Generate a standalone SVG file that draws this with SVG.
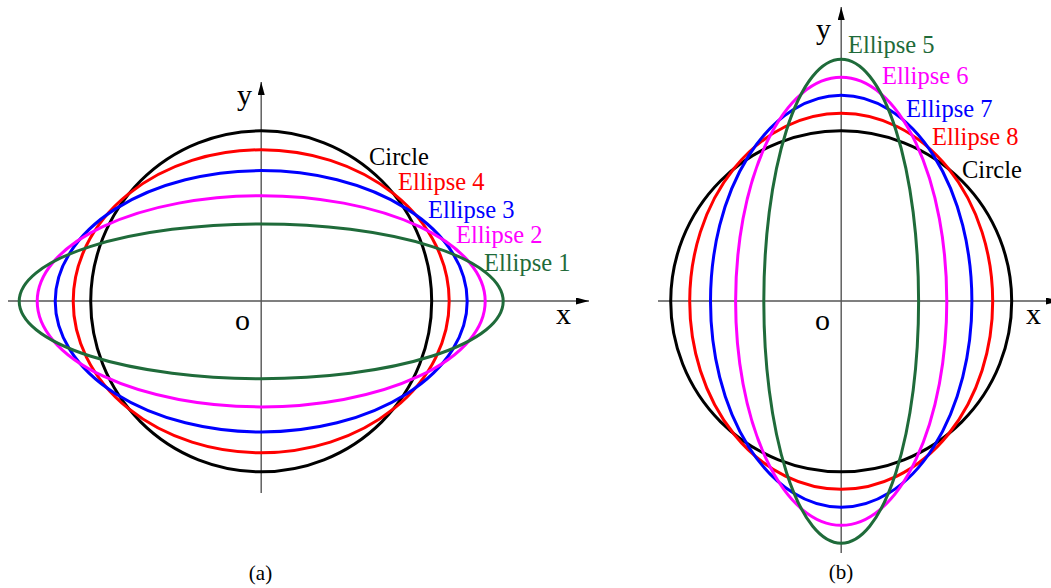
<svg xmlns="http://www.w3.org/2000/svg" width="1051" height="588" viewBox="0 0 1051 588">
<style>
.ax{stroke:#555;stroke-width:1.4;fill:none}
.c{fill:none;stroke-width:3}
.k{stroke:#000}.r{stroke:#ff0000}.b{stroke:#0000ff}.m{stroke:#ff00ff}.g{stroke:#1f6b3a}
.lab{font-family:"Liberation Serif","Times New Roman",serif;font-size:24.5px}
.axl{font-family:"Liberation Serif","Times New Roman",serif;font-size:30px;fill:#000}
.cap{font-family:"Liberation Serif","Times New Roman",serif;font-size:21px;fill:#000;text-anchor:middle}
.tk{fill:#000}.tr{fill:#ff0000}.tb{fill:#0000ff}.tm{fill:#ff00ff}.tg{fill:#1f6b3a}
</style>
<defs>
<marker id="arr" markerWidth="13" markerHeight="7" refX="13" refY="3.5" orient="auto" markerUnits="userSpaceOnUse">
<path d="M0,0 L13,3.5 L0,7 Z" fill="#000"/>
</marker>
</defs>
<rect width="1051" height="588" fill="#fff"/>
<g id="connectors">
<line class="ax" x1="8" y1="301" x2="589" y2="301" marker-end="url(#arr)"/>
<line class="ax" x1="261.2" y1="493" x2="261.2" y2="82" marker-end="url(#arr)"/>
<line class="ax" x1="658" y1="301" x2="1059" y2="301" marker-end="url(#arr)"/>
<line class="ax" x1="841.2" y1="553" x2="841.2" y2="7" marker-end="url(#arr)"/>
</g>
<g id="panel-a">
<g id="a-circle"><ellipse class="c k" cx="261.2" cy="301.3" rx="170.5" ry="170.5"/><text class="lab tk" x="369" y="165">Circle</text></g>
<g id="a-ellipse4"><ellipse class="c r" cx="261.2" cy="301.3" rx="188" ry="151.5"/><text class="lab tr" x="398" y="190">Ellipse 4</text></g>
<g id="a-ellipse3"><ellipse class="c b" cx="261.2" cy="301.3" rx="206" ry="130.7"/><text class="lab tb" x="428" y="218">Ellipse 3</text></g>
<g id="a-ellipse2"><ellipse class="c m" cx="261.2" cy="301.3" rx="224" ry="105.6"/><text class="lab tm" x="456" y="243">Ellipse 2</text></g>
<g id="a-ellipse1"><ellipse class="c g" cx="261.2" cy="301.3" rx="242" ry="77.4"/><text class="lab tg" x="484" y="271">Ellipse 1</text></g>
<text class="axl" x="237" y="105">y</text>
<text class="axl" x="556" y="324">x</text>
<text class="axl" x="235" y="330">o</text>
<text class="cap" x="260.5" y="580">(a)</text>
</g>
<g id="panel-b">
<g id="b-circle"><ellipse class="c k" cx="841.2" cy="301.3" rx="170.5" ry="170.5"/><text class="lab tk" x="962" y="178">Circle</text></g>
<g id="b-ellipse8"><ellipse class="c r" cx="841.2" cy="301.3" rx="151.5" ry="188"/><text class="lab tr" x="932" y="145">Ellipse 8</text></g>
<g id="b-ellipse7"><ellipse class="c b" cx="841.2" cy="301.3" rx="130.7" ry="206"/><text class="lab tb" x="906" y="117">Ellipse 7</text></g>
<g id="b-ellipse6"><ellipse class="c m" cx="841.2" cy="301.3" rx="105.6" ry="224"/><text class="lab tm" x="882" y="84">Ellipse 6</text></g>
<g id="b-ellipse5"><ellipse class="c g" cx="841.2" cy="301.3" rx="77.4" ry="242"/><text class="lab tg" x="848" y="52.5">Ellipse 5</text></g>
<text class="axl" x="816" y="38.5">y</text>
<text class="axl" x="1026" y="324">x</text>
<text class="axl" x="815" y="330">o</text>
<text class="cap" x="841" y="579">(b)</text>
</g>
</svg>
